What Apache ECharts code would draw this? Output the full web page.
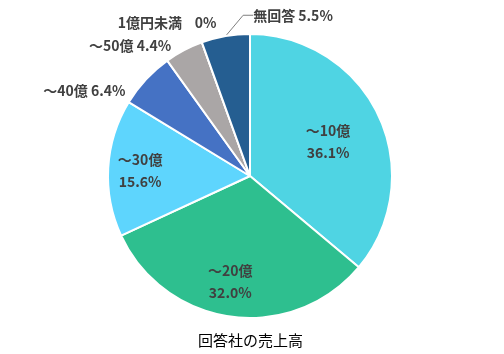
<!DOCTYPE html>
<html><head><meta charset="utf-8">
<script src="https://cdn.jsdelivr.net/npm/echarts@6/dist/echarts.min.js"></script>
<style>html,body{margin:0;padding:0;background:#fff}#c{width:504px;height:354px}</style>
</head><body><div id="c"></div>
<script>
const categories = ['～10億', '～20億', '～30億', '～40億', '～50億', '1億円未満', '無回答'];
const values = [36.1, 32.0, 15.6, 6.4, 4.4, 0, 5.5];
const chartTitle = '回答社の売上高';

const colors = ['#4fd4e3', '#2ebf8f', '#5ed5fd', '#4572c4', '#aaa6a6', '#7f7f7f', '#255e91'];
const inside = [true, true, true, false, false, false, false];
const showLine = [false, false, false, false, false, false, true];
const offsets = [[11,-3],[-10,32],[-36,-1],[2,18],[7,4],[33,-10],[124,-11]];

function fmt(v){ return v === 0 ? '0' : v.toFixed(1); }

const data = categories.map((c, i) => ({
  name: c,
  value: values[i],
  itemStyle: { color: colors[i] },
  label: inside[i] ? {
    position: 'inside',
    formatter: p => p.name + '\n' + fmt(p.value) + '%',
    lineHeight: 22
  } : {
    position: 'outside',
    formatter: p => p.name + (p.value === 0 ? '    ' : ' ') + fmt(p.value) + '%'
  },
  labelLine: { show: showLine[i], length: 10, length2: 10, lineStyle: { color: '#7f7f7f', width: 1 } }
}));

const chart = echarts.init(document.getElementById('c'), null, { renderer: 'canvas' });
chart.setOption({
  animation: false,
  title: {
    text: chartTitle, left: 193, top: 328,
    textStyle: { fontFamily: 'Noto Sans CJK JP', fontSize: 15, fontWeight: 'normal', color: '#000' }
  },
  series: [{
    type: 'pie',
    center: [250, 176],
    radius: 142,
    startAngle: 90,
    clockwise: true,
    avoidLabelOverlap: false,
    minShowLabelAngle: -1,
    stillShowZeroSum: true,
    itemStyle: { borderColor: '#fff', borderWidth: 2 },
    label: {
      show: true,
      fontFamily: 'Noto Sans CJK JP',
      fontSize: 14,
      fontWeight: 'bold',
      color: '#404040'
    },
    labelLine: { showAbove: false },
    labelLayout: p => {
      const o = offsets[p.dataIndex];
      if (!showLine[p.dataIndex]) return { dx: o[0], dy: o[1] };
      const r = p.labelRect;
      return { x: r.x + o[0], y: r.y + o[1], align: 'left', verticalAlign: 'top' };
    },
    data: data
  }]
});
</script></body></html>
